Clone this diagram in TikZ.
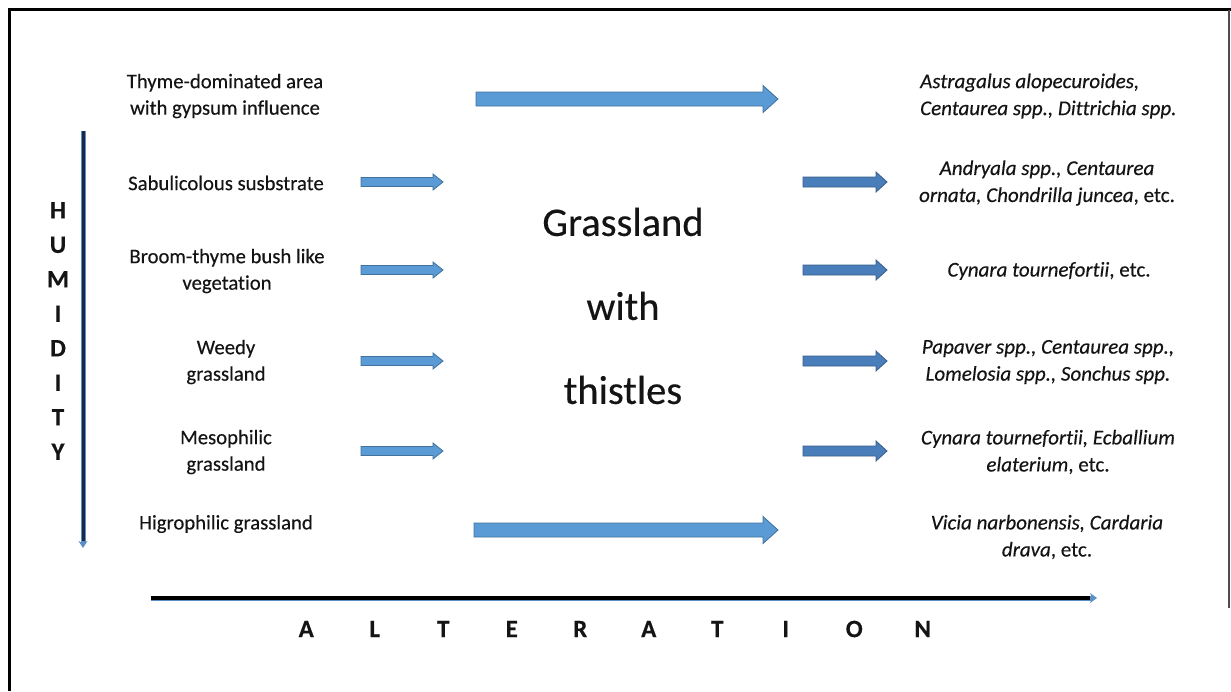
\documentclass[tikz,border=0pt]{standalone}
\usepackage{fontspec}
\usetikzlibrary{arrows.meta}
\setmainfont{Carlito}[Ligatures=NoCommon, FakeBold=0.35]
\definecolor{txt}{HTML}{141414}
\definecolor{afill}{HTML}{5B9BD5}
\definecolor{aline}{HTML}{41719C}
\definecolor{afill2}{HTML}{4A7EBB}
\definecolor{aline2}{HTML}{385D8A}
\definecolor{navy}{HTML}{1B2A40}
\definecolor{axblue}{HTML}{5B8FC8}
\tikzset{
  lab/.style={text=txt, align=center, font=\fontsize{20.7}{26.5}\selectfont, inner sep=0pt},
  spec/.style={lab, font=\fontsize{21}{27}\selectfont\itshape},
  axislab/.style={text=txt, align=center, font=\fontsize{25}{34.5}\selectfont\bfseries, inner sep=0pt},
  arrL/.style={fill=afill, draw=aline, line width=0.8pt},
  arrR/.style={fill=afill2, draw=aline2, line width=0.8pt},
  axouter/.style={draw=axblue, line width=5pt},
  axinner/.style={draw=navy, line width=3pt},
}
\newcommand{\blockarrow}[7]{%
  \path[#1] (#2,#4-#5) -- (#3-#7,#4-#5) -- (#3-#7,#4-#6) -- (#3,#4) -- (#3-#7,#4+#6) -- (#3-#7,#4+#5) -- (#2,#4+#5) -- cycle;}
\newcommand{\lt}[1]{\makebox[68.5pt]{#1}}
\begin{document}
\begin{tikzpicture}[x=1pt,y=-1pt]
\useasboundingbox (0,0) rectangle (1231,691);
% frame
\draw[line width=3.5pt, black] (9.5,691) -- (9.5,9.5) -- (1231,9.5);
\draw[line width=1.2pt, black!70] (1229,10) -- (1229,608);

% humidity axis
\coordinate (h1) at (83,131);
\coordinate (h2) at (83,548);
\draw[axouter, -{Stealth[length=7pt,width=9pt]}] (h1) -- (h2);
\draw[axinner] (h1) -- (83,541);
\node[axislab] (hum) at (58,331) {H\\U\\M\\I\\D\\I\\T\\Y};

% alteration axis
\coordinate (a1) at (151,598);
\coordinate (a2) at (1097,598);
\draw[axouter, -{Stealth[length=7pt,width=10pt]}] (a1) -- (a2);
\draw[line width=3.2pt, black] (a1) -- (1090,598);
\node[axislab] (alt) at (614.5,629) {\lt{A}\lt{L}\lt{T}\lt{E}\lt{R}\lt{A}\lt{T}\lt{I}\lt{O}\lt{N}};

% left labels
\node[lab] (l1) at (225,96) {Thyme-dominated area\\with gypsum influence};
\node[lab] (l2) at (226,183) {Sabulicolous susbstrate};
\node[lab] (l3) at (227,271) {Broom-thyme bush like\\vegetation};
\node[lab] (l4) at (226,362) {Weedy\\grassland};
\node[lab] (l5) at (226,452) {Mesophilic\\grassland};
\node[lab] (l6) at (226,524) {Higrophilic grassland};

% center text
\node[text=txt, align=center, font=\fontsize{40.5}{84}\selectfont, inner sep=0pt] (c) at (623,306) {Grassland\\with\\thistles};

% right labels
\node[spec, anchor=west, align=left] (r1) at (920,96) {Astragalus alopecuroides,\\Centaurea spp., Dittrichia spp.};
\node[spec] (r2) at (1047,183) {Andryala spp., Centaurea\\ornata, Chondrilla juncea\upshape, etc.};
\node[spec] (r3) at (1049,271) {Cynara tournefortii\upshape, etc.};
\node[spec] (r4) at (1048,362) {Papaver spp., Centaurea spp.,\\Lomelosia spp., Sonchus spp.};
\node[spec] (r5) at (1048,452) {Cynara tournefortii, Ecballium\\elaterium\upshape, etc.};
\node[spec] (r6) at (1047,537) {Vicia narbonensis, Cardaria\\drava\upshape, etc.};

% big arrows
\blockarrow{arrL}{476}{778}{99}{7}{13.5}{15}
\blockarrow{arrL}{474}{778}{530}{7}{13.5}{15}
% small left arrows
\foreach \yy in {182,270,361,451}{
  \blockarrow{arrL}{361}{443}{\yy}{4.5}{8}{10}
}
% small right arrows
\foreach \yy in {182,270,361,451}{
  \blockarrow{arrR}{803}{887}{\yy}{5}{10}{11}
}
\end{tikzpicture}
\end{document}
